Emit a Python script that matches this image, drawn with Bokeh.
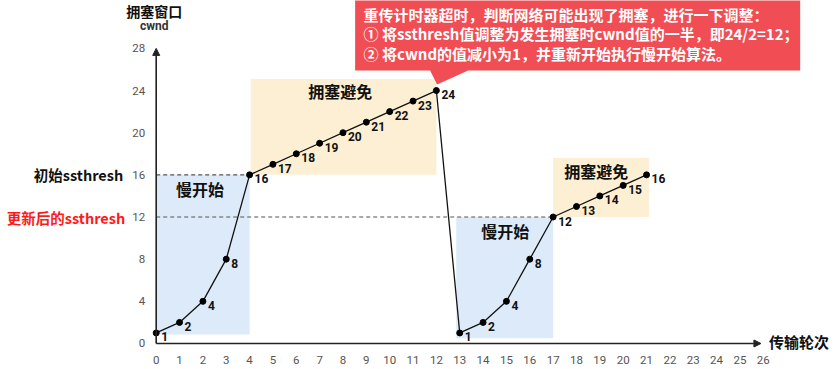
from bokeh.plotting import figure
from bokeh.models import Range1d, Label, Arrow, NormalHead, ColumnDataSource
from bokeh.embed import file_html
from bokeh.resources import INLINE
from bokeh.core.properties import value

# ---- data ----
rounds_1 = [0, 1, 2, 3, 4, 5, 6, 7, 8, 9, 10, 11, 12]
cwnd_1 = [1, 2, 4, 8, 16, 17, 18, 19, 20, 21, 22, 23, 24]
rounds_2 = [13, 14, 15, 16, 17, 18, 19, 20, 21]
cwnd_2 = [1, 2, 4, 8, 12, 13, 14, 15, 16]

ssthresh_init = 16
ssthresh_new = 12
ssthresh_init_end = 4
ssthresh_new_end = 17

region_left = [0, 4.05, 12.85, 17]
region_right = [4, 12, 17, 21.1]
region_bottom = [0.85, 16, 0.5, 12]
region_top = [16, 25.1, 12, 17.6]
region_names = ["慢开始", "拥塞避免", "慢开始", "拥塞避免"]
region_label_x = [1.88, 7.88, 14.95, 18.85]
region_label_y = [14.7, 24.0, 10.72, 16.41]

y_ticks = [0, 4, 8, 12, 16, 20, 24, 28]
x_ticks = list(range(0, 27))
x_axis_end = 25.9
y_axis_end = 28

note_lines = [
    "重传计时器超时，判断网络可能出现了拥塞，进行一下调整：",
    "① 将ssthresh值调整为发生拥塞时cwnd值的一半，即24/2=12；",
    "② 将cwnd的值减小为1，并重新开始执行慢开始算法。",
]
note_line_y = [31.21, 29.41, 27.51]

CJK = "Noto Sans CJK SC"
NUM = "Roboto"

p = figure(width=835, height=369, output_backend="svg", toolbar_location=None,
           x_range=Range1d(-6.668, 29.093), y_range=Range1d(-2.467, 32.543),
           x_axis_location=None, y_axis_location=None,
           min_border_left=0, min_border_right=0, min_border_top=0, min_border_bottom=0)
p.outline_line_color = None
p.xgrid.visible = False
p.ygrid.visible = False
p.background_fill_color = "white"
p.border_fill_color = "white"

# shaded regions
colors = ["#DCEAF9", "#FCEFD3", "#DCEAF9", "#FCEFD3"]
p.quad(left=region_left, right=region_right, bottom=region_bottom, top=region_top,
       fill_color=colors, line_color=None)

# ssthresh dashed lines
p.line([0, ssthresh_init_end], [ssthresh_init, ssthresh_init], line_color="#555555",
       line_dash="4 3", line_width=1.2)
p.line([0, ssthresh_new_end], [ssthresh_new, ssthresh_new], line_color="#555555",
       line_dash="4 3", line_width=1.2)

# axes with arrows
head = dict(size=7, fill_color="#222222", line_color="#222222")
p.add_layout(Arrow(end=NormalHead(**head), x_start=0, y_start=0, x_end=0, y_end=y_axis_end,
                   line_color="#222222", line_width=1.6))
p.add_layout(Arrow(end=NormalHead(**head), x_start=0, y_start=0, x_end=x_axis_end, y_end=0,
                   line_color="#222222", line_width=1.6))

# tick labels
ysrc = ColumnDataSource(dict(x=[0] * len(y_ticks), y=y_ticks, t=[str(v) for v in y_ticks]))
p.text("x", "y", text="t", source=ysrc, x_offset=-11, text_align="right", text_baseline="middle",
       text_font=value(NUM), text_font_size="11.5px", text_color="#555555")
xsrc = ColumnDataSource(dict(x=x_ticks, y=[0] * len(x_ticks), t=[str(v) for v in x_ticks]))
p.text("x", "y", text="t", source=xsrc, y_offset=17, text_align="center", text_baseline="middle",
       text_font=value(NUM), text_font_size="11.5px", text_color="#555555")

# cwnd curve
all_x = rounds_1 + rounds_2
all_y = cwnd_1 + cwnd_2
p.line(all_x, all_y, line_color="#111111", line_width=1.3)
src = ColumnDataSource(dict(x=all_x, y=all_y, t=[str(v) for v in all_y]))
p.scatter("x", "y", source=src, size=6, fill_color="black", line_color="black")
p.text("x", "y", text="t", source=src, x_offset=5, y_offset=4, text_align="left",
       text_baseline="middle", text_font=value(NUM), text_font_style="bold",
       text_font_size="12px", text_color="#111111")

# region names
rsrc = ColumnDataSource(dict(x=region_label_x, y=region_label_y, t=region_names))
p.text("x", "y", text="t", source=rsrc, text_align="center", text_baseline="middle",
       text_font=value(CJK), text_font_style="bold", text_font_size="16px", text_color="#111111")

# axis titles
p.add_layout(Label(x=x_axis_end, y=0, x_offset=8, y_offset=2, text="传输轮次", text_align="left",
                   text_baseline="middle", text_font=CJK, text_font_style="bold",
                   text_font_size="15px", text_color="#111111"))
p.add_layout(Label(x=0, y=31.59, x_offset=-2, text="拥塞窗口", text_align="center",
                   text_baseline="middle", text_font=CJK, text_font_style="bold",
                   text_font_size="14px", text_color="#111111"))
p.add_layout(Label(x=0, y=30.08, x_offset=-2, text="cwnd", text_align="center",
                   text_baseline="middle", text_font=NUM, text_font_style="bold",
                   text_font_size="12px", text_color="#333333"))

# ssthresh names
p.add_layout(Label(x=0, y=ssthresh_init, x_offset=-33, text="初始ssthresh", text_align="right",
                   text_baseline="middle", text_font=CJK, text_font_style="bold",
                   text_font_size="14.5px", text_color="#111111"))
p.add_layout(Label(x=0, y=ssthresh_new, x_offset=-31, text="更新后的ssthresh", text_align="right",
                   text_baseline="middle", text_font=CJK, text_font_style="bold",
                   text_font_size="14.5px", text_color="#FF1A1A"))

# red callout
p.patch([8.52, 27.58, 27.58, 13.36, 12.03, 11.73, 8.52], [33.5, 33.5, 25.9, 25.9, 24.57, 25.9, 25.9],
        fill_color="#F04E54", line_color=None)
for txt, yy in zip(note_lines, note_line_y):
    p.add_layout(Label(x=8.88, y=yy, text=txt, text_align="left", text_baseline="middle",
                       text_font=CJK, text_font_style="bold", text_font_size="15px",
                       text_color="white"))

open("out.html", "w").write(file_html(p, INLINE))
